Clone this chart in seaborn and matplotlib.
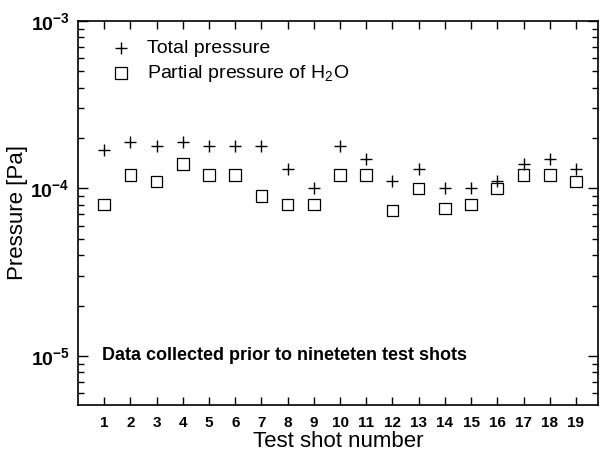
import numpy as np
import pandas as pd
import matplotlib
matplotlib.use('Agg')
import matplotlib.pyplot as plt
import matplotlib.ticker as mticker
import seaborn as sns

shots = list(range(1, 20))
total_pressure = [1.7e-4, 1.9e-4, 1.8e-4, 1.9e-4, 1.8e-4, 1.8e-4, 1.8e-4, 1.3e-4, 1.0e-4, 1.8e-4,
                  1.5e-4, 1.1e-4, 1.3e-4, 1.0e-4, 1.0e-4, 1.1e-4, 1.4e-4, 1.5e-4, 1.3e-4]
h2o_pressure = [8.0e-5, 1.2e-4, 1.1e-4, 1.4e-4, 1.2e-4, 1.2e-4, 9.0e-5, 8.0e-5, 8.0e-5, 1.2e-4,
                1.2e-4, 7.4e-5, 1.0e-4, 7.6e-5, 8.0e-5, 1.0e-4, 1.2e-4, 1.2e-4, 1.1e-4]

sns.set_style('ticks')
plt.rcParams['font.family'] = ['Liberation Sans', 'DejaVu Sans']
plt.rcParams['mathtext.fontset'] = 'custom'
plt.rcParams['mathtext.rm'] = 'Liberation Sans'
plt.rcParams['mathtext.bf'] = 'Liberation Sans:bold'
plt.rcParams['text.color'] = 'black'
plt.rcParams['axes.labelcolor'] = 'black'
plt.rcParams['xtick.color'] = 'black'
plt.rcParams['ytick.color'] = 'black'

df = pd.DataFrame({'shot': shots, 'total': total_pressure, 'h2o': h2o_pressure})

fig = plt.figure(figsize=(6, 4.54), dpi=100)
ax = fig.add_axes([0.13, 0.108, 0.867, 0.846])

sns.scatterplot(data=df, x='shot', y='total', marker='+', s=80, color='black',
                linewidth=1.0, ax=ax, label='Total pressure')
sns.scatterplot(data=df, x='shot', y='h2o', marker='s', s=70, facecolor='none',
                edgecolor='black', linewidth=0.9, ax=ax, label='Partial pressure of H$_2$O')

ax.set_yscale('log')
ax.set_ylim(5.1e-6, 1e-3)
ax.set_xlim(0, 19.85)
ax.set_xticks(shots)

def sci_fmt(v, pos):
    e = int(round(np.log10(v)))
    return r'$\mathbf{10^{%d}}$' % e

ax.yaxis.set_major_formatter(mticker.FuncFormatter(sci_fmt))
ax.yaxis.set_major_locator(mticker.LogLocator(base=10))
ax.yaxis.set_minor_locator(mticker.LogLocator(base=10, subs=np.arange(2, 10)))
ax.yaxis.set_minor_formatter(mticker.NullFormatter())

ax.tick_params(axis='both', which='both', direction='in', top=True, right=True)
ax.tick_params(axis='x', which='major', length=6, width=1, labelsize=11, pad=8)
ax.tick_params(axis='y', which='major', length=7, width=1, labelsize=14, pad=6)
ax.tick_params(axis='y', which='minor', length=4, width=1)
for lbl in ax.get_xticklabels():
    lbl.set_fontweight('bold')

for sp in ax.spines.values():
    sp.set_linewidth(1.2)
    sp.set_color('black')

ax.set_xlabel('Test shot number', fontsize=16, labelpad=1)
ax.set_ylabel('Pressure [Pa]', fontsize=16, labelpad=2)

ax.text(0.9, 1e-5, 'Data collected prior to nineteten test shots', fontsize=13,
        fontweight='bold', va='center', ha='left')

ax.legend(loc='upper left', frameon=False, fontsize=14, handletextpad=0.35,
          borderaxespad=0.5, labelspacing=0.3, bbox_to_anchor=(0.012, 0.997))

plt.savefig('out.png', dpi=100)
plt.close()
